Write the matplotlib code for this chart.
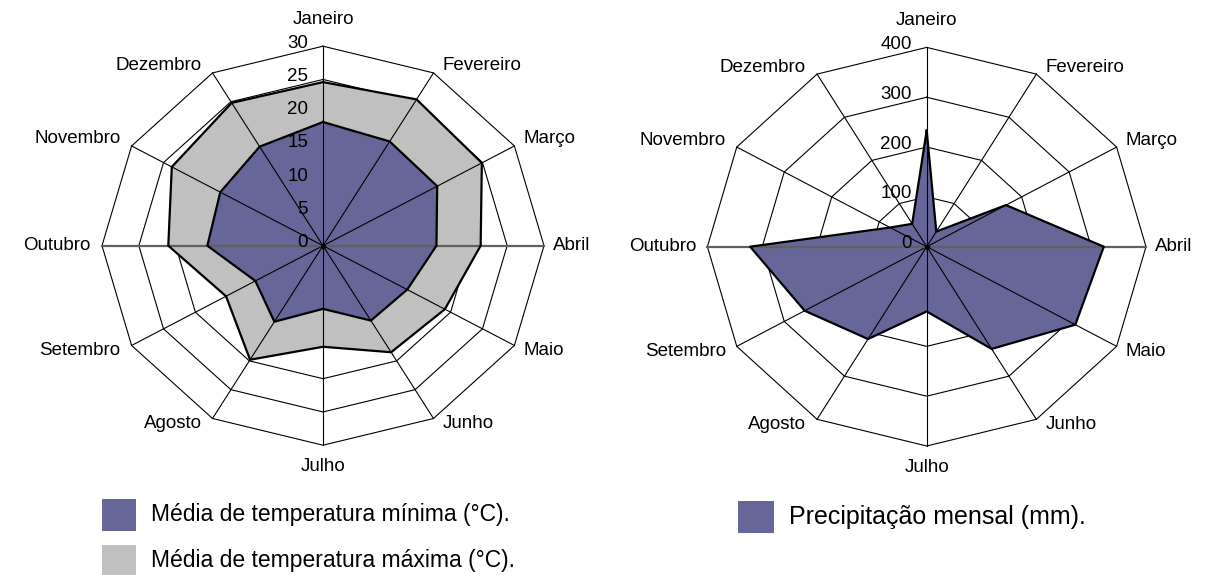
import numpy as np
import matplotlib
matplotlib.use('Agg')
import matplotlib.pyplot as plt
from matplotlib.patches import Rectangle

plt.rcParams['font.family'] = ['Liberation Sans', 'DejaVu Sans']

meses = ['Janeiro', 'Fevereiro', 'Março', 'Abril', 'Maio', 'Junho',
         'Julho', 'Agosto', 'Setembro', 'Outubro', 'Novembro', 'Dezembro']

# temperaturas medias (graus C)
temp_min = [18.6, 18.1, 17.9, 15.4, 13.2, 13.0, 9.5, 13.2, 10.6, 15.7, 16.1, 17.2]
temp_max = [24.6, 25.4, 24.9, 21.4, 19.1, 18.5, 15.2, 19.8, 15.2, 21.0, 23.7, 24.8]
temp_ticks = [0, 5, 10, 15, 20, 25, 30]

# precipitacao mensal (mm)
precip = [233, 35, 167, 323, 313, 237, 130, 214, 257, 322, 77, 53]
precip_ticks = [0, 100, 200, 300, 400]

roxo = '#666699'
cinza = '#C0C0C0'

W, H = 1206, 575
ang = np.arange(12) * np.pi / 6


def xy(vals, rmax):
    r = np.asarray(vals, dtype=float) / rmax
    return r * np.sin(ang), r * np.cos(ang)


def radar_axes(fig, cx, cy, rx, ry):
    # cx, cy, rx, ry in pixels (y from top), r=1 -> spoke end
    w = 2.4 * rx
    h = 2.4 * ry
    ax = fig.add_axes([(cx - w / 2) / W, (H - cy - h / 2) / H, w / W, h / H])
    ax.set_xlim(-1.2, 1.2)
    ax.set_ylim(-1.2, 1.2)
    ax.set_aspect('auto')
    ax.axis('off')
    return ax


def grid(ax, ticks):
    rmax = ticks[-1]
    for t in ticks[1:]:
        x, y = xy([t] * 12, rmax)
        ax.plot(np.append(x, x[0]), np.append(y, y[0]), color='black', lw=0.8, zorder=1)
    for i in range(12):
        if i in (3, 9):
            continue
        ax.plot([0, np.sin(ang[i])], [0, np.cos(ang[i])], color='black', lw=0.8, zorder=5)
    ax.plot([-1, 1], [0, 0], color='#606060', lw=1.6, zorder=5)
    ax.plot([0], [0], 'o', color='black', ms=3, zorder=6)
    for t in ticks:
        ax.annotate(str(t), xy=(0, t / rmax), xytext=(-15, 3), textcoords='offset pixels',
                    ha='right', va='center', fontsize=13.5, zorder=7)
    for i, m in enumerate(meses):
        p = (np.sin(ang[i]), np.cos(ang[i]))
        if i == 0:
            off, ha = (0, 27), 'center'
        elif i == 6:
            off, ha = (0, -21), 'center'
        elif i < 6:
            off, ha = (9, [7, 7, 7, 0, -5, -5][i]), 'left'
        else:
            off, ha = (-11, [0, 0, 0, 0, 0, 0, 0, -5, -5, 0, 7, 7][i]), 'right'
        ax.annotate(m, xy=p, xytext=off, textcoords='offset pixels',
                    ha=ha, va='center', fontsize=13.5)


def serie(ax, vals, rmax, cor, z):
    x, y = xy(vals, rmax)
    ax.fill(x, y, facecolor=cor, edgecolor='none', zorder=z)
    ax.plot(np.append(x, x[0]), np.append(y, y[0]), color='black', lw=1.6, zorder=z + 4)


fig = plt.figure(figsize=(W / 100, H / 100), dpi=100)

ax1 = radar_axes(fig, 323, 245.7, 221, 199.5)
grid(ax1, temp_ticks)
serie(ax1, temp_max, 30, cinza, 2)
serie(ax1, temp_min, 30, roxo, 3)

ax2 = radar_axes(fig, 926.7, 246.7, 219.3, 199.3)
grid(ax2, precip_ticks)
serie(ax2, precip, 400, roxo, 3)


def legenda(x, ytop, w, h, cor, texto, fs):
    fig.add_artist(Rectangle((x / W, (H - ytop - h) / H), w / W, h / H,
                             transform=fig.transFigure, facecolor=cor, edgecolor='none'))
    fig.text((x + w + 15) / W, (H - ytop - h / 2) / H, texto, fontsize=fs,
             ha='left', va='center')


legenda(102, 499, 34, 32, roxo, 'Média de temperatura mínima (°C).', 16.5)
legenda(102, 545, 34, 32, cinza, 'Média de temperatura máxima (°C).', 16.5)
legenda(738, 501, 36, 32, roxo, 'Precipitação mensal (mm).', 18)

fig.savefig('out.png', dpi=100)
